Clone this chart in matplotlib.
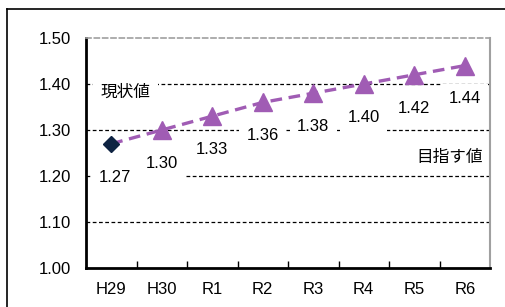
import matplotlib.pyplot as plt
from matplotlib.lines import Line2D

plt.rcParams['font.family'] = ['Liberation Sans', 'Noto Sans CJK JP', 'DejaVu Sans']

years = ['H29', 'H30', 'R1', 'R2', 'R3', 'R4', 'R5', 'R6']
values = [1.27, 1.30, 1.33, 1.36, 1.38, 1.40, 1.42, 1.44]
y_ticks = [1.00, 1.10, 1.20, 1.30, 1.40, 1.50]

PURPLE = '#a05cb4'
NAVY = '#0e2342'
FS = 12

W, H = 505, 307
fig = plt.figure(figsize=(W / 100, H / 100), dpi=100)

# outer frame (left and top edges only visible)
fig.add_artist(Line2D([7 / W, 7 / W], [0, 1 - 9 / H], color='black', lw=1.2))
fig.add_artist(Line2D([7 / W, 1], [1 - 9 / H, 1 - 9 / H], color='black', lw=1.2))

ax = fig.add_axes([86 / W, 39 / H, 404 / W, 230 / H])
x = list(range(len(years)))

ax.set_xlim(-0.5, len(years) - 0.5)
ax.set_ylim(1.0, 1.5)

for yv in y_ticks[1:-1]:
    ax.axhline(yv, color='black', lw=0.9, ls=(0, (3, 2)), zorder=1)

ax.plot(x, values, color=PURPLE, lw=2.4, ls=(0, (3.5, 2)), zorder=3)
ax.plot(x[1:], values[1:], ls='none', marker='^', ms=13, color=PURPLE, zorder=4)
ax.plot(x[:1], values[:1], ls='none', marker='D', ms=8, color=NAVY, zorder=4)

box = dict(boxstyle='square,pad=0.45', fc='white', ec='none')
for xi, v in zip(x, values):
    dx = 3 if xi == 0 else 0
    ax.annotate(f'{v:.2f}', (xi, v), xytext=(dx, -24), textcoords='offset points',
                ha='center', va='center', fontsize=FS, bbox=box, zorder=2)

ax.text(0.28, 1.383, '現状値', ha='center', va='center', fontsize=FS,
        bbox=box, zorder=2)
ax.text(6.7, 1.24, '目指す値', ha='center', va='center', fontsize=FS,
        bbox=box, zorder=2)

ax.set_yticks(y_ticks)
ax.set_yticklabels([f'{t:.2f}' for t in y_ticks], fontsize=FS)
ax.tick_params(axis='y', length=0, pad=11)

ax.set_xticks(x)
ax.set_xticklabels(years, fontsize=FS)
ax.tick_params(axis='x', length=0, pad=10)
ax.set_xticks([i + 0.5 for i in x[:-1]], minor=True)
ax.tick_params(axis='x', which='minor', direction='in', length=5, width=1, color='black')

for s in ['left', 'bottom']:
    ax.spines[s].set_color('black')
    ax.spines[s].set_linewidth(2)
ax.spines['right'].set_color('#a0a0a0')
ax.spines['right'].set_linewidth(1.5)
ax.spines['top'].set_color('#a0a0a0')
ax.spines['top'].set_linewidth(1.2)
ax.spines['top'].set_linestyle((0, (3, 2)))

fig.savefig('out.png', dpi=100)
